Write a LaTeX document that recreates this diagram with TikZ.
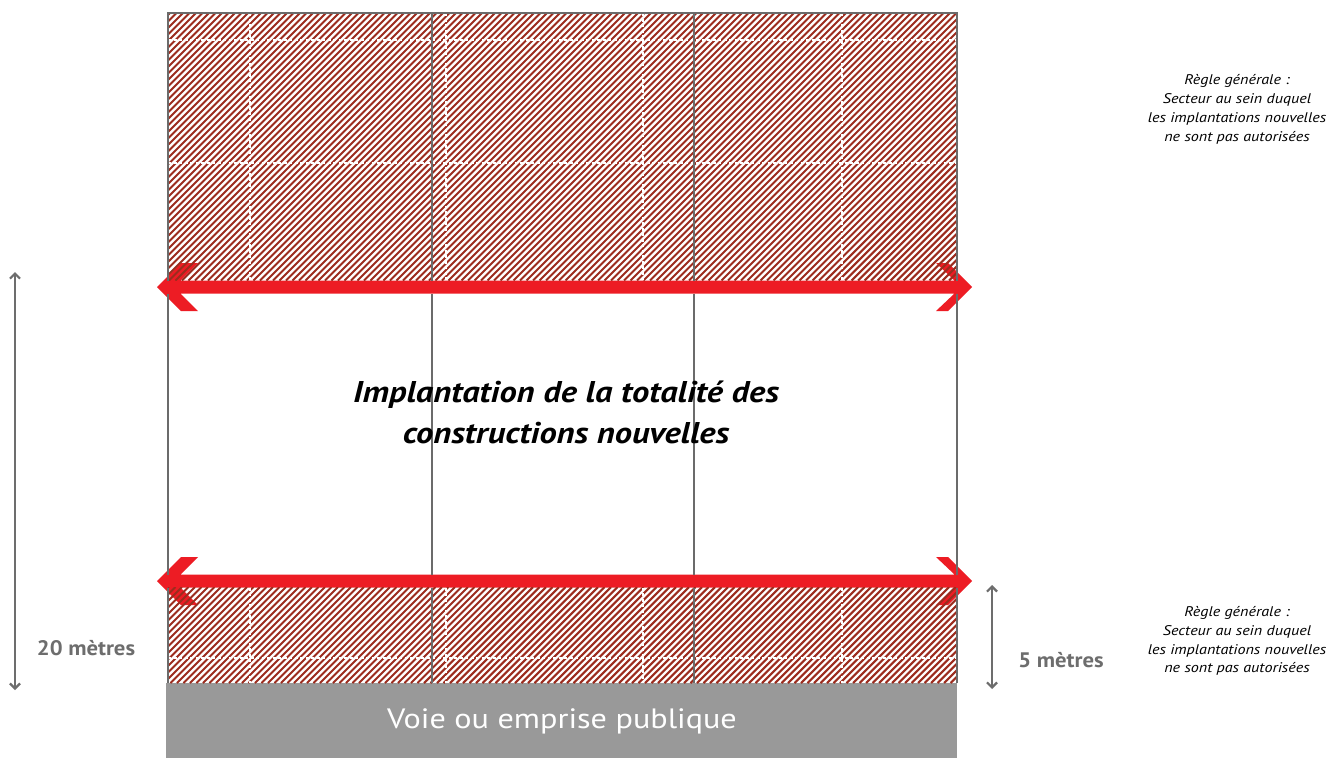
\documentclass[tikz,border=0pt]{standalone}
\usepackage{fontspec}
\setmainfont{PT Sans}
\newfontfamily\widefont[FakeStretch=1.15]{PT Sans}
\newfontfamily\dimfont[FakeStretch=1.08]{PT Sans}
\usetikzlibrary{arrows.meta}
\definecolor{frame}{HTML}{6B6B6B}
\definecolor{hatchred}{HTML}{9C2C1E}
\definecolor{arrowred}{HTML}{ED1C24}
\definecolor{road}{HTML}{999999}
\definecolor{dimgray}{HTML}{6D6D6D}
\tikzset{
  hatch/.style={draw=hatchred, line width=2.1pt},
  gridline/.style={draw=frame, line width=2pt},
  whitedash/.style={draw=white, line width=1.3pt, dash pattern=on 3pt off 2.5pt},
  bigarrow/.style={fill=arrowred, draw=none},
  dimarrow/.style={draw=dimgray, line width=2.2pt, {Straight Barb[length=5pt,width=10pt]}-{Straight Barb[length=5pt,width=10pt]}},
  sidetext/.style={font=\widefont\fontsize{14}{18.8}\selectfont\itshape, align=center, text=black},
  dimtext/.style={font=\dimfont\fontsize{21}{24}\selectfont\bfseries, text=dimgray},
}
\begin{document}
\begin{tikzpicture}[x=1pt,y=-1pt]
\useasboundingbox (0,0) rectangle (1328,758);
\fill[white] (0,0) rectangle (1328,758);

% road
\node[fill=road, minimum width=791pt, minimum height=75pt, inner sep=0pt, anchor=north west] (road) at (166,683) {};
\node[text=white, font=\widefont\fontsize{28}{30}\selectfont] (roadlabel) at (562,721) {Voie ou emprise publique};

% red double arrows (drawn first so the hatching shows through the wings)
\foreach \c/\nm in {287/top, 581/bot}{
  \fill[bigarrow] (157,\c)
    -- (181,\c-24) -- (198,\c-24) -- (180.5,\c-6.5)
    -- (954.5,\c-6.5) -- (936,\c-24) -- (948,\c-24) -- (972,\c)
    -- (948,\c+24) -- (936,\c+24) -- (954.5,\c+6.5)
    -- (180.5,\c+6.5) -- (198,\c+24) -- (181,\c+24) -- cycle;
}

% hatched zones
\begin{scope}
  \clip (168,13) rectangle (957,280.5);
  \foreach \xx in {-104,-97.5,...,960} \draw[hatch] (\xx,280.5) -- ++(268,-268);
\end{scope}
\begin{scope}
  \clip (168,587.5) rectangle (957,683);
  \foreach \xx in {60,66.5,...,960} \draw[hatch] (\xx,683) -- ++(96,-96);
\end{scope}

% white dashed subdivisions
\foreach \yy in {40,163} \draw[whitedash] (168,\yy) -- (957,\yy);
\draw[whitedash] (168,658) -- (957,658);
\foreach \xx in {250,446,643,842}{
  \draw[whitedash] (\xx,13) -- (\xx,280.5);
  \draw[whitedash] (\xx,587.5) -- (\xx,683);
}

% frame and plot limits
\draw[gridline] (168,280.5) -- (168,13) -- (957,13) -- (957,280.5);
\foreach \xx in {168,432,694,957}{
  \draw[gridline] (\xx,293.5) -- (\xx,574.5);
  \draw[gridline] (\xx,587.5) -- (\xx,683);
}
\foreach \xx in {432,694} \draw[gridline] (\xx,13) -- (\xx,280.5);

% central text
\node[font=\widefont\fontsize{30}{41}\selectfont\bfseries\itshape, align=center] (main) at (566,412)
  {Implantation de la totalité des\\constructions nouvelles};

% side texts
\node[sidetext] (ruletop) at (1237,109.5) {Règle générale :\\Secteur au sein duquel\\les implantations nouvelles\\ne sont pas autorisées};
\node[sidetext] (rulebot) at (1237,641) {Règle générale :\\Secteur au sein duquel\\les implantations nouvelles\\ne sont pas autorisées};

% dimensions
\coordinate (d20a) at (15,272);
\coordinate (d20b) at (15,690);
\draw[dimarrow] (d20a) -- (d20b);
\node[dimtext] (t20) at (86,648) {20 mètres};
\coordinate (d5a) at (992,585);
\coordinate (d5b) at (992,689);
\draw[dimarrow] (d5a) -- (d5b);
\node[dimtext] (t5) at (1061,660) {5 mètres};
\end{tikzpicture}
\end{document}
